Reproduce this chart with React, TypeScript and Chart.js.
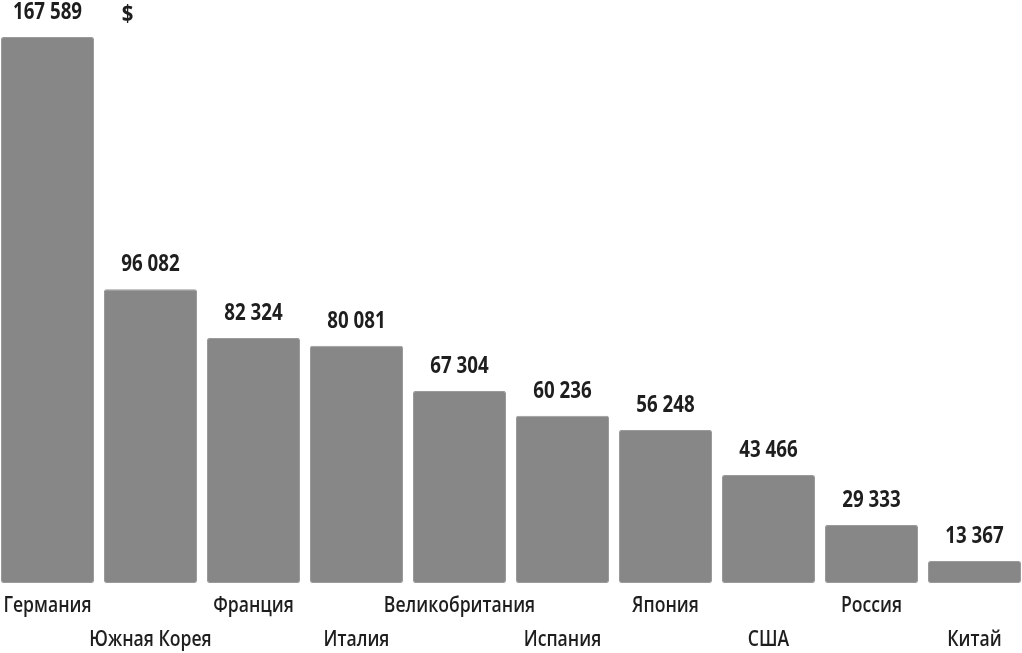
import React, { useEffect, useRef } from "react";
import { Chart, registerables } from "chart.js";

Chart.register(...registerables);

const countries = [
  "Германия",
  "Южная Корея",
  "Франция",
  "Италия",
  "Великобритания",
  "Испания",
  "Япония",
  "США",
  "Россия",
  "Китай",
];
const values = [167589, 96082, 82324, 80081, 67304, 60236, 56248, 43466, 29333, 13367];
const unitLabel = "$";
const axisMin = 12870;

const fmt = (v: number) => String(v).replace(/\B(?=(\d{3})+(?!\d))/g, " ");

function narrowText(ctx: CanvasRenderingContext2D, text: string, x: number, y: number, sx: number) {
  ctx.save();
  ctx.translate(x, y);
  ctx.scale(sx, 1);
  ctx.fillText(text, 0, 0);
  ctx.restore();
}

const labelsPlugin = {
  id: "customLabels",
  afterDatasetsDraw(chart: any) {
    const ctx = chart.ctx;
    const meta = chart.getDatasetMeta(0);
    const area = chart.chartArea;
    ctx.save();
    ctx.textAlign = "center";
    ctx.textBaseline = "alphabetic";
    ctx.fillStyle = "#1e1e1e";
    meta.data.forEach((bar: any, i: number) => {
      ctx.font = "bold 24px 'Open Sans', sans-serif";
      narrowText(ctx, fmt(values[i]), bar.x, bar.y - 18, 0.78);
      ctx.font = "600 22px 'Open Sans', sans-serif";
      const row = i % 2;
      narrowText(ctx, countries[i], bar.x, area.bottom + 29 + row * 34, 0.8);
    });
    ctx.font = "bold 24px 'Open Sans', sans-serif";
    const second = meta.data[1];
    narrowText(ctx, unitLabel, second.x - 23, 22, 0.85);
    ctx.restore();
  },
};

export default function App() {
  const ref = useRef<HTMLCanvasElement>(null);
  useEffect(() => {
    if (!ref.current) return;
    const chart = new Chart(ref.current, {
      type: "bar",
      data: {
        labels: countries,
        datasets: [
          {
            data: values,
            base: axisMin,
            backgroundColor: "#878787",
            borderColor: "#9a9a9a",
            borderWidth: 1,
            borderRadius: 2,
            borderSkipped: false,
            minBarLength: 22,
            categoryPercentage: 1,
            barPercentage: 0.903,
          },
        ],
      },
      options: {
        responsive: false,
        animation: false,
        layout: { padding: { top: 37, bottom: 70, left: 0, right: 0 } },
        plugins: { legend: { display: false }, tooltip: { enabled: false } },
        scales: {
          x: { display: false },
          y: { display: false, min: axisMin, max: 167589 },
        },
      },
      plugins: [labelsPlugin],
    });
    return () => chart.destroy();
  }, []);
  return (
    <div style={{ position: "fixed", left: -4, top: 0, width: 1030, height: 653, background: "#fff" }}>
      <canvas ref={ref} width={1030} height={653} />
    </div>
  );
}
